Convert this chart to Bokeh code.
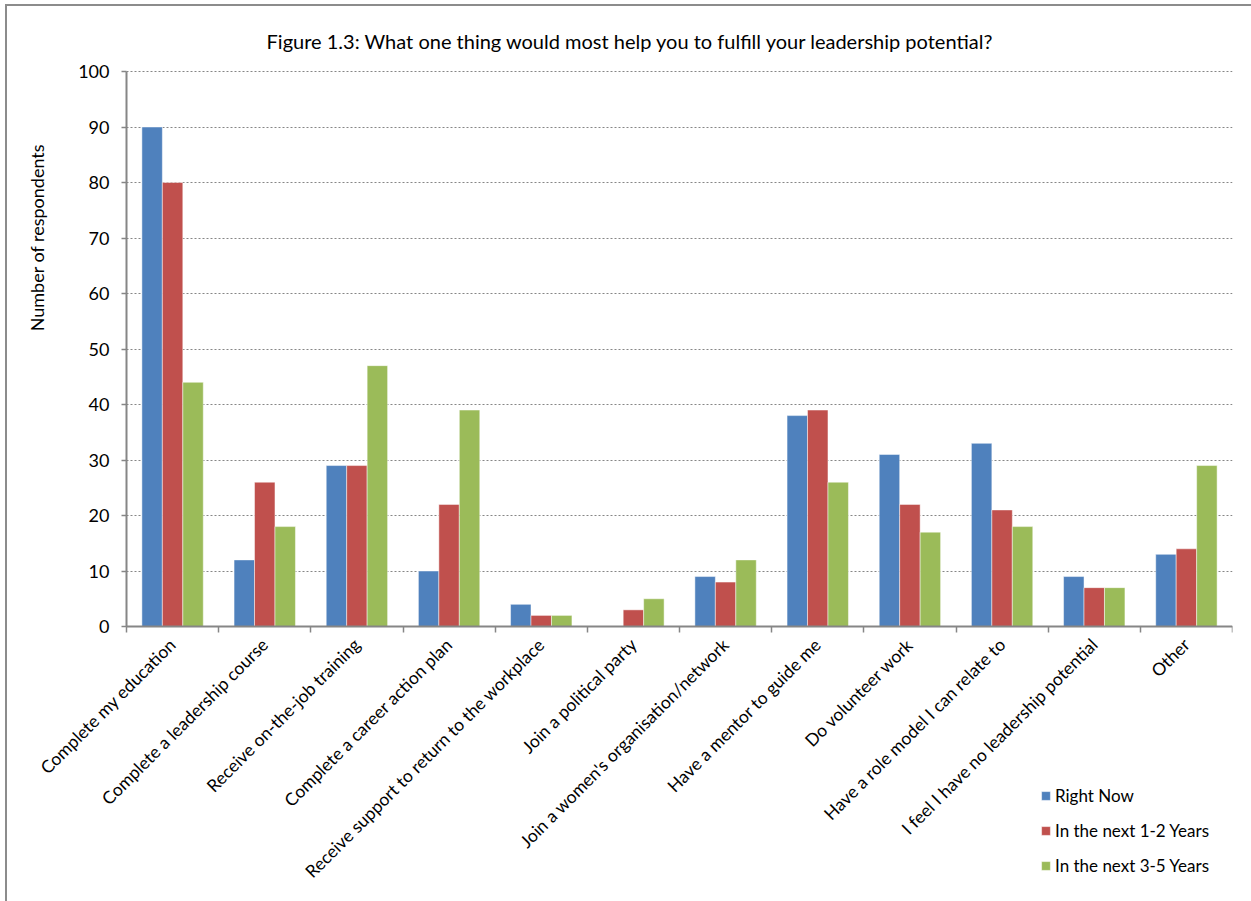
import math
import numpy as np
from bokeh.plotting import figure
from bokeh.models import (Range1d, FixedTicker, Legend, LegendItem, Label, ColumnDataSource,
                          BoxAnnotation)
from bokeh.embed import file_html
from bokeh.resources import INLINE

categories = [
    "Complete my education",
    "Complete a leadership course",
    "Receive on-the-job training",
    "Complete a career action plan",
    "Receive support to return to the workplace",
    "Join a political party",
    "Join a women's organisation/network",
    "Have a mentor to guide me",
    "Do volunteer work",
    "Have a role model I can relate to",
    "I feel I have no leadership potential",
    "Other",
]
right_now = [90, 12, 29, 10, 4, 0, 9, 38, 31, 33, 9, 13]
next_1_2 = [80, 26, 29, 22, 2, 3, 8, 39, 22, 21, 7, 14]
next_3_5 = [44, 18, 47, 39, 2, 5, 12, 26, 17, 18, 7, 29]
series_names = ["Right Now", "In the next 1-2 Years", "In the next 3-5 Years"]
series_colors = ["#4F81BD", "#C0504D", "#9BBB59"]
y_ticks = list(range(0, 101, 10))
title_text = "Figure 1.3: What one thing would most help you to fulfill your leadership potential?"
y_label = "Number of respondents"

FONT = "Lato"
GRAY = "#868686"
W, H = 1251, 901
AX_L, AX_R = 126, 1232      # where the category axis starts/ends (page px)
AX_TOP, AX_BOT = 71, 626    # where 100 and 0 sit (page px)
FL, FR, FT, FB = 8, 1232, 10, 895   # extended frame (page px)
n = len(categories)
PPU = (AX_BOT - AX_TOP) / 100.0
PPC = (AX_R - AX_L) / n

p = figure(width=W, height=H, output_backend="svg", toolbar_location=None,
           x_range=Range1d(-0.5 - (AX_L - FL) / PPC, n - 0.5),
           y_range=Range1d(-(FB - AX_BOT) / PPU, 100 + (AX_TOP - FT) / PPU),
           min_border_left=FL, min_border_right=W - FR,
           min_border_top=FT, min_border_bottom=H - FB)
p.outline_line_color = None
p.background_fill_color = "white"
p.border_fill_color = None
p.styles = {
    "background": "linear-gradient(#8c8c8c,#8c8c8c) 5px 4px / 2px 100% no-repeat, "
                  "linear-gradient(#8c8c8c,#8c8c8c) 5px 4px / 100% 2px no-repeat, white"
}

# gridlines only across the plotting area
p.xgrid.grid_line_color = None
p.ygrid.ticker = FixedTicker(ticks=y_ticks)
p.ygrid.grid_line_color = GRAY
p.ygrid.grid_line_dash = "2 2"
p.ygrid.grid_line_width = 1
try:
    p.ygrid.cross_bounds = (-0.5, n - 0.5)
except Exception:
    p.add_layout(BoxAnnotation(right=-0.5, fill_color="white", fill_alpha=1.0,
                               line_color=None, level="underlay"))

xs = np.arange(n)
bw = 0.222
offsets = [-bw, 0.0, bw]
renderers = []
for vals, name, color, off in zip([right_now, next_1_2, next_3_5], series_names, series_colors, offsets):
    src = ColumnDataSource(dict(x=xs + off, top=vals))
    r = p.vbar(x="x", top="top", width=bw, bottom=0, source=src,
               fill_color=color, line_color="white", line_alpha=0.6, line_width=0.8)
    renderers.append(r)

# x axis (pinned at y = 0)
xa = p.xaxis[0]
xa.fixed_location = 0
xa.bounds = (-0.5, n - 0.5)
xa.ticker = FixedTicker(ticks=list(range(n)), minor_ticks=[i - 0.5 for i in range(n + 1)])
xa.major_label_overrides = {i: c for i, c in enumerate(categories)}
xa.major_label_orientation = math.pi / 4
xa.major_tick_out = 0
xa.major_tick_in = 0
xa.minor_tick_out = 6
xa.minor_tick_in = 0
xa.minor_tick_line_color = GRAY
xa.minor_tick_line_width = 1.5
xa.axis_line_color = GRAY
xa.axis_line_width = 2
xa.major_label_text_font = FONT
xa.major_label_text_font_size = "17.5px"
xa.major_label_text_color = "black"
xa.major_label_standoff = 9

# y axis (pinned at the left edge of the categories)
ya = p.yaxis[0]
ya.fixed_location = -0.5
ya.bounds = (0, 100)
ya.ticker = FixedTicker(ticks=y_ticks)
ya.axis_line_color = GRAY
ya.axis_line_width = 2
ya.major_tick_line_color = GRAY
ya.major_tick_line_width = 1.5
ya.major_tick_out = 5
ya.major_tick_in = 0
ya.minor_tick_line_color = None
ya.major_label_text_font = FONT
ya.major_label_text_font_size = "18px"
ya.major_label_text_color = "black"
ya.major_label_standoff = 12

# chart title and y-axis title
p.add_layout(Label(x=630 - FL, y=FB - 40, x_units="screen", y_units="screen", text=title_text,
                   text_align="center", text_baseline="middle", text_font=FONT,
                   text_font_size="20px", text_color="black"))
p.add_layout(Label(x=36 - FL, y=FB - 237, x_units="screen", y_units="screen", text=y_label,
                   angle=math.pi / 2, text_align="center", text_baseline="middle",
                   text_font=FONT, text_font_size="18px", text_color="black"))

legend = Legend(items=[LegendItem(label=nm, renderers=[r]) for nm, r in zip(series_names, renderers)],
                location=(1040 - FL, FB - 876))
legend.background_fill_alpha = 0
legend.border_line_color = None
legend.padding = 0
legend.margin = 0
legend.spacing = 13
legend.label_height = 22
legend.glyph_width = 11
legend.glyph_height = 11
legend.label_standoff = 4
legend.label_text_font = FONT
legend.label_text_font_size = "17px"
legend.label_text_color = "black"
p.add_layout(legend)

open("out.html", "w").write(file_html(p, INLINE))
